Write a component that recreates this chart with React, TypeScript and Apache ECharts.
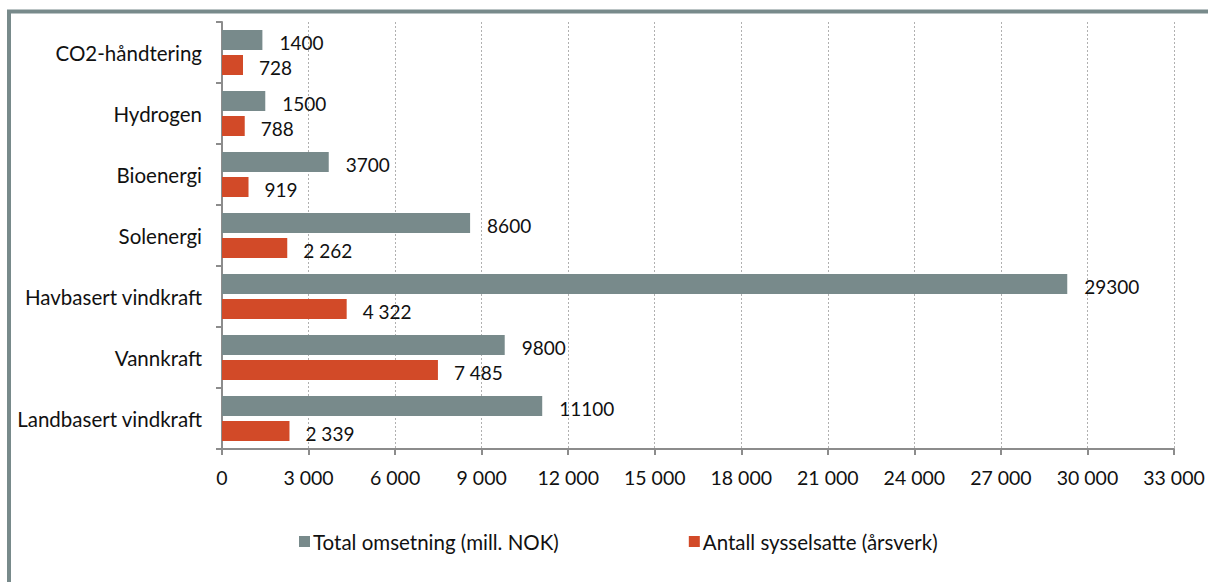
import React, { useEffect, useRef } from "react";
import * as echarts from "echarts";

const categories = [
  "Landbasert vindkraft",
  "Vannkraft",
  "Havbasert vindkraft",
  "Solenergi",
  "Bioenergi",
  "Hydrogen",
  "CO2-håndtering",
];
const omsetning = [11100, 9800, 29300, 8600, 3700, 1500, 1400];
const sysselsatte = [2339, 7485, 4322, 2262, 919, 788, 728];
const seriesNames = ["Total omsetning (mill. NOK)", "Antall sysselsatte (årsverk)"];
const xMin = 0;
const xMax = 33000;
const xInterval = 3000;

const FONT = "Lato";
const GREY = "#788a8b";
const RED = "#d24a28";

const sep = (v: number) => String(v).replace(/\B(?=(\d{3})+(?!\d))/g, " ");

export default function App() {
  const ref = useRef<HTMLDivElement>(null);
  useEffect(() => {
    const chart = echarts.init(ref.current!, null, { renderer: "svg" });
    const valueLabel = (fmt: (v: number) => string, dist: number) => ({
      show: true,
      position: "right",
      distance: dist,
      formatter: (p: any) => fmt(p.value),
      fontFamily: FONT,
      fontSize: 19,
      color: "#111",
      offset: [0, 2],
    });
    chart.setOption({
      animation: false,
      textStyle: { fontFamily: FONT },
      graphic: [
        {
          type: "rect",
          shape: { x: 9, y: 11.5, width: 1400, height: 800 },
          style: { fill: "none", stroke: GREY, lineWidth: 4 },
          silent: true,
        },
      ],
      legend: {
        data: seriesNames,
        left: 294,
        top: 526,
        itemWidth: 11,
        itemHeight: 11,
        itemGap: 130,
        icon: "rect",
        textStyle: { fontFamily: FONT, fontSize: 20.5, color: "#111", padding: [0, 0, 0, -2] },
      },
      grid: { left: 222, right: 34, top: 22, bottom: 133, containLabel: false },
      xAxis: {
        type: "value",
        min: xMin,
        max: xMax,
        interval: xInterval,
        axisLine: { show: true, lineStyle: { color: "#8c8c8c", width: 2 } },
        axisTick: { show: true, length: 6, lineStyle: { color: "#8c8c8c", width: 2 } },
        axisLabel: {
          formatter: (v: number) => sep(v),
          fontFamily: FONT,
          fontSize: 19.5,
          color: "#111",
          margin: 18,
        },
        splitLine: { show: true, lineStyle: { color: "#b0b0b0", type: [2, 2], width: 1 } },
      },
      yAxis: {
        type: "category",
        data: categories,
        axisLine: { show: true, lineStyle: { color: "#8c8c8c", width: 2 } },
        axisTick: { show: true, length: 6, lineStyle: { color: "#8c8c8c", width: 2 } },
        axisLabel: { fontFamily: FONT, fontSize: 20.5, color: "#111", margin: 20 },
        splitLine: { show: false },
      },
      series: [
        {
          name: seriesNames[0],
          type: "bar",
          data: omsetning,
          barWidth: 20,
          barGap: "25%",
          itemStyle: { color: GREY },
          label: valueLabel((v) => String(v), 17),
        },
        {
          name: seriesNames[1],
          type: "bar",
          data: sysselsatte,
          barWidth: 20,
          barGap: "25%",
          itemStyle: { color: RED },
          label: valueLabel(sep, 16),
        },
      ],
    });
    return () => chart.dispose();
  }, []);
  return (
    <div
      ref={ref}
      style={{ position: "fixed", left: 0, top: 0, width: 1208, height: 582, background: "#fff" }}
    />
  );
}
